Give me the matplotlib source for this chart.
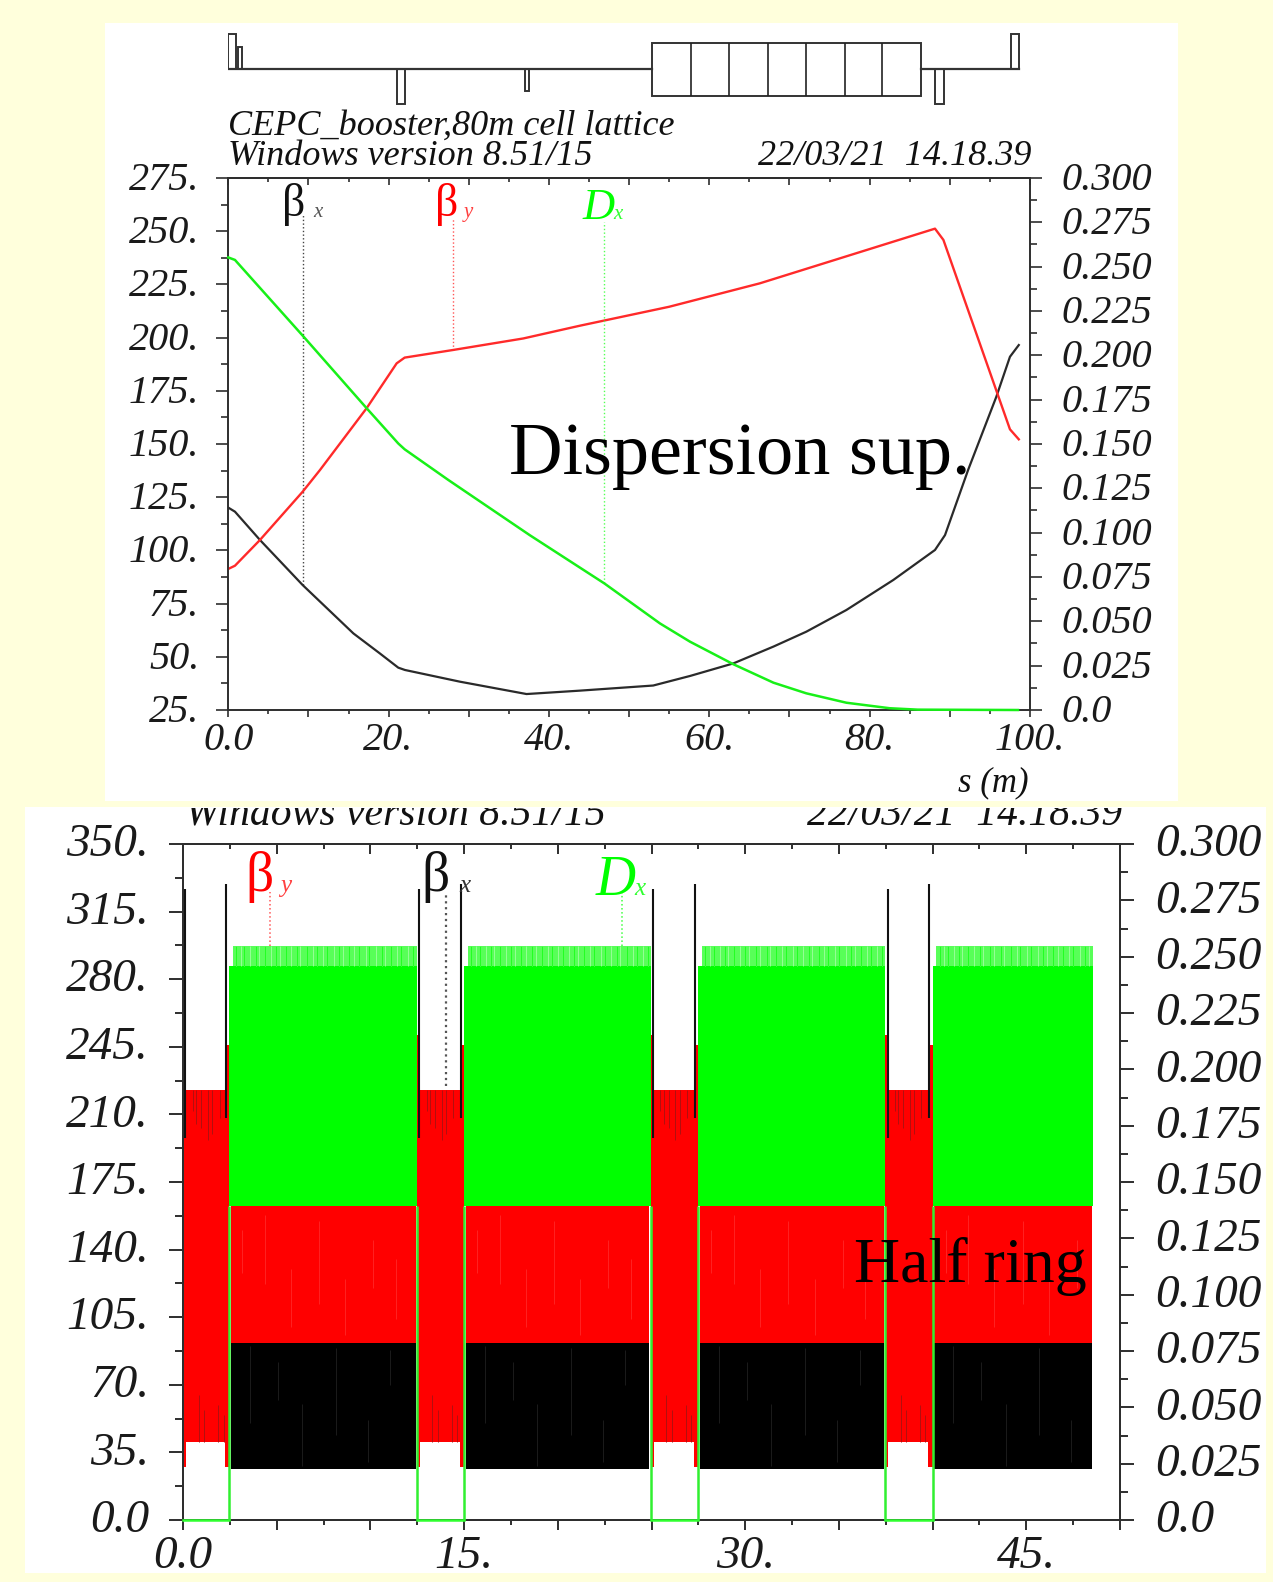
import matplotlib
matplotlib.use("Agg")
import matplotlib.pyplot as plt
from matplotlib.patches import Rectangle
from matplotlib.ticker import FixedLocator, NullFormatter
from matplotlib.transforms import ScaledTranslation

W, H = 1273, 1582
BG = "#FFFFDC"
SERIF = "Liberation Serif"
plt.rcParams["font.family"] = [SERIF, "DejaVu Serif"]

# ---------- upper panel: dispersion suppressor ----------
s_bx = [0, 0.83, 3.95, 9.28, 15.6, 18.9, 21.2, 22.04, 28.9, 37.2, 43.87, 53.0, 57.6, 63.0, 68.0,
        72.1, 77.1, 82.95, 88.15, 89.4, 92.3, 95.8, 97.5, 98.6]
beta_x = [120.1, 118.2, 104.9, 83.7, 61.0, 51.6, 44.9, 43.8, 38.3, 32.5, 34.1, 36.5, 41.0, 46.9, 54.8,
          61.8, 72.0, 86.1, 100.2, 107.2, 138.0, 172.2, 191.0, 196.5]
s_by = [0, 0.83, 3.95, 9.28, 11.44, 17.25, 21.0, 22.0, 28.07, 36.8, 43.87, 55.0, 66.3, 88.15,
        89.2, 97.5, 98.6]
beta_y = [91.3, 92.8, 104.9, 127.6, 137.8, 166.8, 187.9, 190.6, 194.2, 199.6, 205.6, 214.5, 225.5,
          251.2, 245.9, 156.9, 152.2]
s_dx = [0, 0.83, 9.28, 17.25, 21.2, 22.0, 27.45, 37.6, 46.9, 53.85, 57.6, 63.0, 68.0, 72.1, 77.1,
        82.5, 86.0, 98.5]
disp_x = [0.2552, 0.2538, 0.2111, 0.1702, 0.1503, 0.1470, 0.1297, 0.0986, 0.0714, 0.0488, 0.0385,
          0.0258, 0.0154, 0.0094, 0.0041, 0.0010, 0.0002, 0.0]
i_bx_mark, i_by_mark, i_dx_mark = 3, 8, 8

up_left_ticks = [25, 50, 75, 100, 125, 150, 175, 200, 225, 250, 275]
up_left_minor = [37.5, 62.5, 87.5, 112.5, 137.5, 162.5, 187.5, 212.5, 237.5, 262.5]
up_left_labels = ["25.", "50.", "75.", "100.", "125.", "150.", "175.", "200.", "225.", "250.", "275."]
up_right_ticks = [0, 0.025, 0.05, 0.075, 0.1, 0.125, 0.15, 0.175, 0.2, 0.225, 0.25, 0.275, 0.3]
up_right_minor = [0.0125, 0.0375, 0.0625, 0.0875, 0.1125, 0.1375, 0.1625, 0.1875, 0.2125, 0.2375,
                  0.2625, 0.2875]
up_right_labels = ["0.0", "0.025", "0.050", "0.075", "0.100", "0.125", "0.150", "0.175", "0.200",
                   "0.225", "0.250", "0.275", "0.300"]
up_x_ticks = [0, 10, 20, 30, 40, 50, 60, 70, 80, 90, 100]
up_x_minor = [5, 15, 25, 35, 45, 55, 65, 75, 85, 95]
up_x_labels = ["0.0", "", "20.", "", "40.", "", "60.", "", "80.", "", "100."]

# lattice sketch above the upper panel (s start, s end, strength)
quad_start = [0.0, 1.2, 21.0, 37.0, 88.2, 97.6]
quad_end = [1.0, 1.65, 22.1, 37.45, 89.3, 98.6]
quad_strength = [35, 22, -35, -21.5, -35, 35]
dipole_edges = [52.8, 57.7, 62.5, 67.3, 72.0, 76.9, 81.6, 86.4]
dipole_half = 26.5

# ---------- lower panel: half ring ----------
straight_start = [0.0, 12.47, 24.95, 37.45]
straight_end = [2.45, 15.0, 27.5, 40.0]
arc_start = [2.45, 15.0, 27.5, 40.0]
arc_end = [12.47, 24.95, 37.45, 48.56]

bx_arc_low, bx_arc_high = 26.5, 91.8
by_arc_high = 162.5
dx_arc_low, dx_arc_solid, dx_arc_high = 0.1393, 0.2460, 0.2548
by_str_low, by_str_high = 40.6, 222.6
by_stub_low = 27.6
by_stub_left_top = [235, 251, 251, 251]
by_stub_right_top = [246, 246, 246, 246]
bx_left_line = [0.13, 12.6, 25.1, 37.6]
bx_right_line = [2.3, 14.82, 27.3, 39.8]
bx_line_top_left, bx_line_top_right = 326.7, 329.3
bx_line_bottom_left, bx_line_bottom_right = 198, 208

str_spike_off = [0.53, 0.7, 0.98, 1.33, 1.56, 1.95]
str_spike_low = [212, 205, 203, 197, 200, 208]
str_low_spike_off = [0.84, 1.12, 1.87, 2.17]
str_low_spike_top = [64.8, 57, 59.6, 54.4]
green_gap_off = [0.18, 0.42, 0.63, 0.95, 1.22, 1.38, 1.71, 2.02, 2.31, 2.5, 2.86, 3.1, 3.44, 3.62, 3.97,
                 4.28, 4.49, 4.83, 5.06, 5.4, 5.69, 5.88, 6.22, 6.5, 6.74, 7.09, 7.3, 7.66, 7.95, 8.14,
                 8.47, 8.79, 9.0, 9.34, 9.62, 9.85]
red_hair_off = [0.7, 1.9, 3.3, 4.8, 6.2, 7.7, 8.9]
red_hair_low = [128, 122, 100, 112, 96, 120, 104]
red_hair_high = [150, 158, 130, 155, 125, 145, 135]
black_hair_off = [1.1, 2.6, 3.9, 5.7, 7.4, 8.6]
black_hair_low = [50, 62, 28, 44, 30, 70]
black_hair_high = [90, 82, 60, 89, 52, 88]

low_left_ticks = [0, 35, 70, 105, 140, 175, 210, 245, 280, 315, 350]
low_left_minor = [17.5, 52.5, 87.5, 122.5, 157.5, 192.5, 227.5, 262.5, 297.5, 332.5]
low_left_labels = ["0.0", "35.", "70.", "105.", "140.", "175.", "210.", "245.", "280.", "315.", "350."]
low_x_ticks = [0, 5, 10, 15, 20, 25, 30, 35, 40, 45, 50]
low_x_minor = [2.5, 7.5, 12.5, 17.5, 22.5, 27.5, 32.5, 37.5, 42.5, 47.5]
low_x_labels = ["0.0", "", "", "15.", "", "", "30.", "", "", "45.", ""]

RED, GREEN, LGREEN, BLACK = "#FF0000", "#00FF00", "#58FF58", "#000000"
AX = "#2e2e2e"

fig = plt.figure(figsize=(W / 100, H / 100), dpi=100, facecolor=BG)


def rect_ax(x0, y0, x1, y1, **kw):
    return fig.add_axes([x0 / W, 1 - y1 / H, (x1 - x0) / W, (y1 - y0) / H], **kw)


def ftext(x, y, s, **kw):
    return fig.text(x / W, 1 - y / H, s, **kw)


def panel(x0, y0, x1, y1):
    fig.add_artist(Rectangle((x0 / W, 1 - y1 / H), (x1 - x0) / W, (y1 - y0) / H, transform=fig.transFigure,
                             facecolor="white", edgecolor="none", zorder=-1))


panel(105, 23, 1178, 801)
panel(25, 807, 1266, 1573)


def style(ax, tw, xlim, ylim, yrlim, xt, xm, xl, yt, ym, yl, rt, rm, rl, sizes, fs, xpad, lpad, rpad, lw, lift):
    major_x, minor_x, major_y, minor_y = [v * 0.72 for v in sizes]
    ax.set_xlim(*xlim)
    ax.set_ylim(*ylim)
    tw.set_ylim(*yrlim)
    ax.xaxis.set_major_locator(FixedLocator(xt))
    ax.xaxis.set_minor_locator(FixedLocator(xm))
    ax.set_xticklabels(xl, fontsize=fs, style="italic", color="#1a1a1a")
    ax.yaxis.set_major_locator(FixedLocator(yt))
    ax.yaxis.set_minor_locator(FixedLocator(ym))
    ax.set_yticklabels(yl, fontsize=fs, style="italic", color="#1a1a1a")
    tw.yaxis.set_major_locator(FixedLocator(rt))
    tw.yaxis.set_minor_locator(FixedLocator(rm))
    tw.set_yticklabels(rl, fontsize=fs, style="italic", color="#1a1a1a")
    ax.tick_params(axis="x", which="major", direction="out", length=major_x, width=lw, color=AX, pad=xpad * 0.72)
    ax.tick_params(axis="x", which="minor", direction="out", length=minor_x, width=lw, color=AX)
    ax.tick_params(axis="y", which="major", direction="out", length=major_y, width=lw, color=AX, pad=lpad * 0.72)
    ax.tick_params(axis="y", which="minor", direction="out", length=minor_y, width=lw, color=AX)
    tw.tick_params(axis="y", which="major", direction="out", length=major_y, width=lw, color=AX, pad=rpad * 0.72)
    tw.tick_params(axis="y", which="minor", direction="out", length=minor_y, width=lw, color=AX)
    up = ScaledTranslation(0, lift * 0.72 / 72, fig.dpi_scale_trans)
    for lab in list(ax.get_yticklabels()) + list(tw.get_yticklabels()):
        lab.set_transform(lab.get_transform() + up)
    sec = ax.secondary_xaxis("top")
    sec.xaxis.set_major_locator(FixedLocator(xt))
    sec.xaxis.set_minor_locator(FixedLocator(xm))
    sec.xaxis.set_major_formatter(NullFormatter())
    sec.tick_params(axis="x", which="major", direction="in", length=major_x, width=lw, color=AX)
    sec.tick_params(axis="x", which="minor", direction="in", length=minor_x, width=lw, color=AX)
    for a in (ax, tw, sec):
        for sp in a.spines.values():
            sp.set_color(AX)
            sp.set_linewidth(lw)


# ---------- upper panel ----------
ax1 = rect_ax(228.3, 178, 1030, 710)
ax1.patch.set_alpha(0)
tw1 = ax1.twinx()
style(ax1, tw1, (0, 100), (25, 275), (0, 0.3), up_x_ticks, up_x_minor, up_x_labels,
      up_left_ticks, up_left_minor, up_left_labels, up_right_ticks, up_right_minor, up_right_labels,
      (7, 3.5, 12, 7), 29, 5, 17, 19, 1.2, 2)
ax1.plot(s_bx, beta_x, color="#2a2a2a", lw=1.6, zorder=5)
ax1.plot(s_by, beta_y, color="#FF2A2A", lw=1.7, zorder=5)
tw1.plot(s_dx, disp_x, color="#18F018", lw=1.8, zorder=5, clip_on=False)
ax1.plot([s_bx[i_bx_mark]] * 2, [beta_x[i_bx_mark], 258], color="#444444", lw=1, ls=":")
ax1.plot([s_by[i_by_mark]] * 2, [beta_y[i_by_mark], 256], color="#FF5555", lw=1, ls=":")
tw1.plot([s_dx[i_dx_mark]] * 2, [disp_x[i_dx_mark], 0.275], color="#55FF55", lw=1, ls=":")

ftext(282, 216, "\u03b2", fontsize=33, color="#111111")
ftext(313, 217, "x", fontsize=15, style="italic", color="#555555")
ftext(435, 216, "\u03b2", fontsize=33, color=RED)
ftext(464, 217, "y", fontsize=15, style="italic", color="#FF4040")
ftext(582, 219, "D", fontsize=32, style="italic", color=GREEN)
ftext(613, 219, "x", fontsize=15, style="italic", color="#30FF30")

ftext(228, 135, "CEPC_booster,80m cell lattice", fontsize=26, style="italic", color="#111111")
ftext(228, 165, "Windows version 8.51/15", fontsize=26, style="italic", color="#111111")
ftext(1031, 165, "22/03/21  14.18.39", fontsize=26, style="italic", ha="right", color="#111111")
ftext(1029, 791, "s (m)", fontsize=25, style="italic", ha="right", color="#111111")
ftext(509, 474, "Dispersion sup.", fontsize=53.5, color="black", zorder=20)

# lattice sketch
lat = rect_ax(228.3, 24, 1030, 110)
lat.set_xlim(0, 100)
lat.set_ylim(-41, 45)
lat.axis("off")
LAT = "#333333"
lat.plot([0, dipole_edges[0]], [0, 0], color=LAT, lw=1.6)
lat.plot([dipole_edges[-1], quad_end[-1]], [0, 0], color=LAT, lw=1.6)
for a, b, h in zip(quad_start, quad_end, quad_strength):
    lat.add_patch(Rectangle((a, 0), b - a, h, facecolor="white", edgecolor=LAT, lw=1.4))
lat.add_patch(Rectangle((dipole_edges[0], -dipole_half), dipole_edges[-1] - dipole_edges[0], 2 * dipole_half,
                        facecolor="white", edgecolor=LAT, lw=1.4))
lat.vlines(dipole_edges[1:-1], -dipole_half, dipole_half, color="#222222", lw=1.2)

# ---------- lower panel ----------
ax2 = rect_ax(183, 844, 1120, 1520)
ax2.patch.set_alpha(0)
tw2 = ax2.twinx()
style(ax2, tw2, (0, 50), (0, 350), (0, 0.3), low_x_ticks, low_x_minor, low_x_labels,
      low_left_ticks, low_left_minor, low_left_labels, up_right_ticks, up_right_minor, up_right_labels,
      (10, 5, 14, 8), 34, 6, 20, 21, 1.4, 4)

for a, b in zip(arc_start, arc_end):
    ax2.fill_between([a + 0.1, b - 0.06], [bx_arc_low] * 2, [bx_arc_high] * 2, color=BLACK, lw=0)
    ax2.fill_between([a + 0.1, b - 0.06], [bx_arc_high] * 2, [by_arc_high] * 2, color=RED, lw=0)
    tw2.fill_between([a, b], [dx_arc_low] * 2, [dx_arc_solid] * 2, color=GREEN, lw=0)
    tw2.fill_between([a + 0.2, b], [dx_arc_solid] * 2, [dx_arc_high] * 2, color=LGREEN, lw=0)
    gaps = [a + 0.2 + g for g in green_gap_off if a + 0.2 + g < b]
    tw2.vlines(gaps, dx_arc_solid, dx_arc_high, color="#A0FFA0", lw=0.6)
    tw2.vlines(gaps[::2], dx_arc_solid, dx_arc_high, color="#20FF20", lw=0.7)
    for off, lo, hi in zip(red_hair_off, red_hair_low, red_hair_high):
        if a + off < b:
            ax2.vlines(a + off, lo, hi, color="#FF3030", lw=0.5)
    for off, lo, hi in zip(black_hair_off, black_hair_low, black_hair_high):
        if a + off < b:
            ax2.vlines(a + off, lo, hi, color="#262626", lw=0.5)

for i, (a, b) in enumerate(zip(straight_start, straight_end)):
    ax2.fill_between([a, b], [by_str_low] * 2, [by_str_high] * 2, color=RED, lw=0)
    ax2.fill_between([a, a + 0.16], [by_stub_low] * 2, [by_str_low] * 2, color=RED, lw=0)
    ax2.fill_between([b - 0.22, b], [by_stub_low] * 2, [by_str_low] * 2, color=RED, lw=0)
    ax2.fill_between([a, a + 0.13], [by_str_high] * 2, [by_stub_left_top[i]] * 2, color=RED, lw=0)
    ax2.fill_between([b - 0.18, b], [by_str_high] * 2, [by_stub_right_top[i]] * 2, color=RED, lw=0)
    for off, lo in zip(str_spike_off, str_spike_low):
        ax2.vlines(a + off, lo, by_str_high, color="#B01010", lw=0.7)
    for off, hi in zip(str_low_spike_off, str_low_spike_top):
        ax2.vlines(a + off, by_str_low, hi, color="#B01010", lw=0.7)
    ax2.vlines(bx_left_line[i], bx_line_bottom_left, bx_line_top_left, color="#111111", lw=1.5)
    ax2.vlines(bx_right_line[i], bx_line_bottom_right, bx_line_top_right, color="#111111", lw=1.5)
    tw2.plot([a, b], [0, 0], color="#30FF30", lw=1.8, zorder=5, clip_on=False)
    edges = [b] if a == 0 else [a, b]
    tw2.vlines(edges, 0, dx_arc_low, color="#30F030", lw=1.8, zorder=5)

ax2.plot([4.64, 4.64], [297, 325], color="#FF5555", lw=1.1, ls=":")
ax2.plot([14.03, 14.03], [224.5, 325], color="#555555", lw=1.6, ls=":")
tw2.plot([23.45, 23.45], [0.2548, 0.2785], color="#40FF40", lw=1.1, ls=":")

ftext(245, 891, "\u03b2", fontsize=40, color=RED, zorder=20)
ftext(280, 892, "y", fontsize=18, style="italic", color="#FF4040", zorder=20)
ftext(421, 891, "\u03b2", fontsize=40, color="#111111", zorder=20)
ftext(459, 892, "x", fontsize=18, style="italic", color="#333333", zorder=20)
ftext(596, 895, "D", fontsize=40, style="italic", color=GREEN, zorder=20)
ftext(634, 895, "x", fontsize=18, style="italic", color="#30FF30", zorder=20)
ftext(854, 1282, "Half ring", fontsize=46, color="black", zorder=20)

clip = Rectangle((25 / W, 1 - 1573 / H), (1266 - 25) / W, (1573 - 808) / H, transform=fig.transFigure)
t1 = ftext(185, 825, "Windows version 8.51/15", fontsize=30, style="italic", color="#111111")
t2 = ftext(1122, 825, "22/03/21  14.18.39", fontsize=30, style="italic", ha="right", color="#111111")
for t in (t1, t2):
    t.set_clip_path(clip)

fig.savefig("out.png", dpi=100, facecolor=BG)
